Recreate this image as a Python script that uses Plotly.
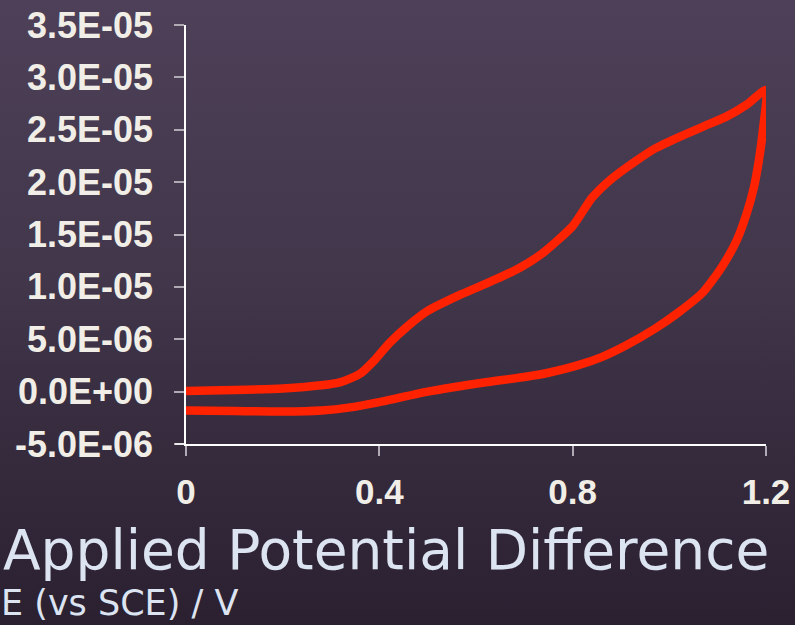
import plotly.graph_objects as go
import base64

# Forward scan (upper branch) then reverse scan (lower branch)
forward_e = [0.0, 0.1, 0.2, 0.28, 0.32, 0.36, 0.39, 0.42, 0.46, 0.50, 0.57, 0.63, 0.69, 0.74, 0.80, 0.84, 0.88, 0.93, 0.97, 1.02, 1.07, 1.12, 1.16, 1.20]
forward_i = [0.05e-6, 0.15e-6, 0.3e-6, 0.6e-6, 0.9e-6, 1.7e-6, 3.0e-6, 4.6e-6, 6.3e-6, 7.7e-6, 9.3e-6, 1.05e-5, 1.18e-5, 1.33e-5, 1.58e-5, 1.85e-5, 2.03e-5, 2.2e-5, 2.32e-5, 2.43e-5, 2.53e-5, 2.63e-5, 2.74e-5, 2.88e-5]
reverse_e = [1.20, 1.195, 1.185, 1.175, 1.16, 1.14, 1.11, 1.07, 1.02, 0.97, 0.91, 0.86, 0.81, 0.75, 0.70, 0.62, 0.55, 0.50, 0.44, 0.40, 0.34, 0.28, 0.20, 0.10, 0.0]
reverse_i = [2.88e-5, 2.55e-5, 2.2e-5, 1.95e-5, 1.7e-5, 1.45e-5, 1.2e-5, 9.5e-6, 7.6e-6, 6.0e-6, 4.4e-6, 3.3e-6, 2.5e-6, 1.8e-6, 1.4e-6, 0.9e-6, 0.4e-6, 0.0, -0.6e-6, -1.0e-6, -1.5e-6, -1.8e-6, -1.9e-6, -1.85e-6, -1.8e-6]

x_ticks = [0, 0.4, 0.8, 1.2]
x_tick_labels = ["0", "0.4", "0.8", "1.2"]
y_ticks = [-5e-6, 0, 5e-6, 1e-5, 1.5e-5, 2e-5, 2.5e-5, 3e-5, 3.5e-5]
y_tick_labels = ["-5.0E-06", "0.0E+00", "5.0E-06", "1.0E-05", "1.5E-05", "2.0E-05", "2.5E-05", "3.0E-05", "3.5E-05"]

title_text = "Applied Potential Difference"
subtitle_text = "E (vs SCE) / V"

svg = ('<svg xmlns="http://www.w3.org/2000/svg" width="795" height="625" preserveAspectRatio="none">'
       '<defs><linearGradient id="g" x1="0" y1="0" x2="0" y2="1">'
       '<stop offset="0" stop-color="#4d4058"/><stop offset="0.45" stop-color="#41364a"/>'
       '<stop offset="1" stop-color="#2a2030"/></linearGradient></defs>'
       '<rect width="795" height="625" fill="url(#g)"/></svg>')
bg_src = "data:image/svg+xml;base64," + base64.b64encode(svg.encode()).decode()

fig = go.Figure()
fig.add_trace(go.Scatter(
    x=forward_e + reverse_e[1:], y=forward_i + reverse_i[1:],
    mode="lines", line=dict(color="#ff2200", width=8.5, shape="spline", smoothing=0.6),
    cliponaxis=False, showlegend=False, hoverinfo="skip"))

L, R, T, B = 186, 29, 25, 181
W, H = 795, 625
pw, ph = W - L - R, H - T - B

fig.update_layout(
    width=W, height=H,
    margin=dict(l=L, r=R, t=T, b=B, pad=0, autoexpand=False),
    paper_bgcolor="#3a2f42", plot_bgcolor="rgba(0,0,0,0)",
    font=dict(family="Liberation Sans", color="#f0eee6"),
    images=[dict(source=bg_src, xref="paper", yref="paper",
                 x=-L / pw, y=1 + T / ph, sizex=W / pw, sizey=H / ph,
                 sizing="stretch", layer="below", xanchor="left", yanchor="top")],
    xaxis=dict(range=[0, 1.2], tickvals=x_ticks, ticktext=x_tick_labels, automargin=False,
               showgrid=False, zeroline=False, showline=True, linecolor="#ffffff", linewidth=1.5,
               ticks="outside", ticklen=10, tickcolor="#b0aab4", tickwidth=1.5,
               tickfont=dict(family="Liberation Sans", size=35, color="#f0eee6", weight="bold"),
               ticklabelstandoff=6),
    yaxis=dict(range=[-5e-6, 3.5e-5], tickvals=y_ticks, ticktext=y_tick_labels, automargin=False,
               showgrid=False, zeroline=False, showline=True, linecolor="#ffffff", linewidth=1.5,
               ticks="outside", ticklen=10, tickcolor="#b0aab4", tickwidth=1.5,
               tickfont=dict(family="Liberation Sans", size=36, color="#f0eee6", weight="bold"),
               ticklabelstandoff=14),
    annotations=[
        dict(text=title_text, xref="paper", yref="paper", x=-(L - 2) / pw, y=-(583 - T - ph) / ph,
             xanchor="left", yanchor="bottom", showarrow=False, borderpad=0,
             font=dict(family="DejaVu Sans", size=55, color="#dce4f2")),
        dict(text=subtitle_text, xref="paper", yref="paper", x=-L / pw, y=-(624 - T - ph) / ph,
             xanchor="left", yanchor="bottom", showarrow=False, borderpad=0,
             font=dict(family="DejaVu Sans", size=35, color="#dce4f2")),
    ],
)
# extend x-axis line slightly left past the y axis like the reference
fig.add_shape(type="line", xref="paper", yref="paper", x0=-11 / pw, x1=0, y0=0, y1=0,
              line=dict(color="#ffffff", width=1.5))

fig.write_html("out.html", config={"displayModeBar": False},
               post_script="document.body.style.margin='0';document.body.style.padding='0';")
